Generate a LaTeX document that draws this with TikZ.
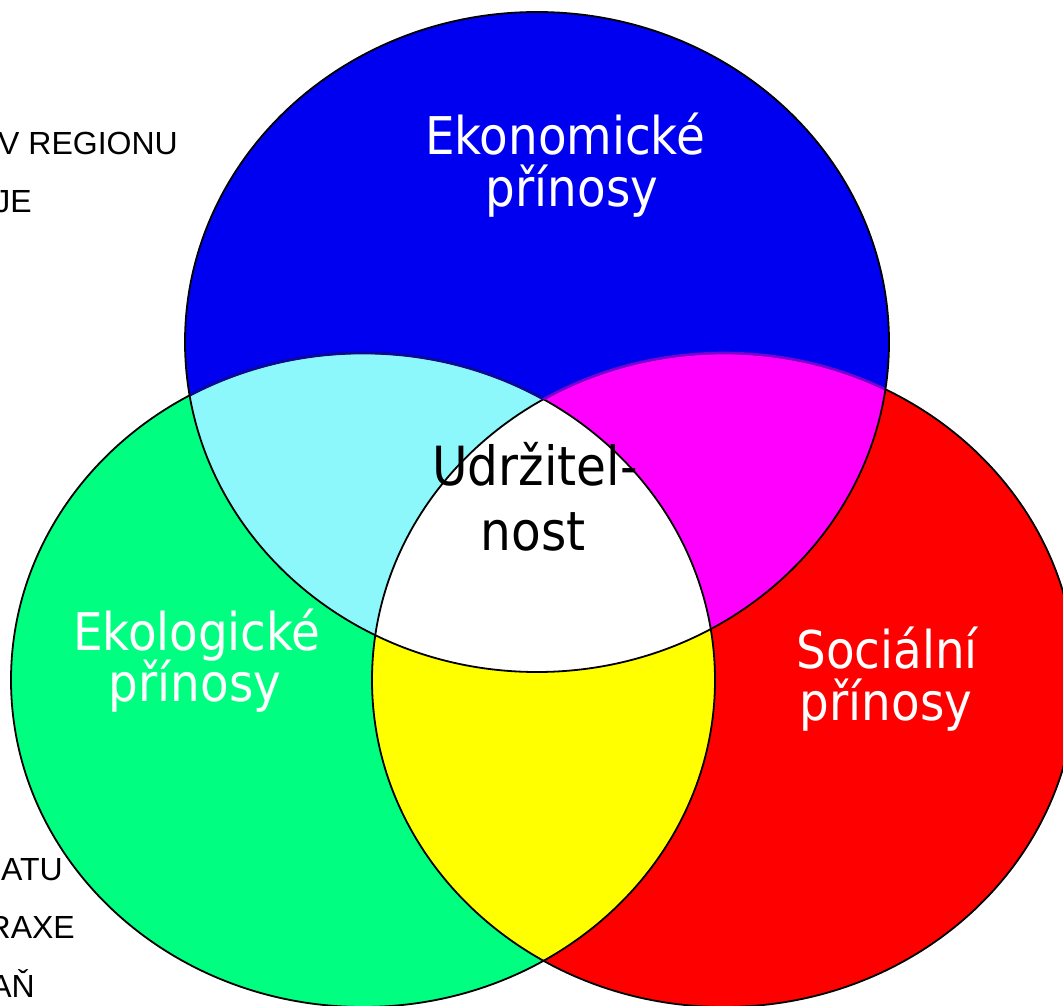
\documentclass[tikz,border=0pt]{standalone}
\usepackage{fontspec}
\newfontfamily\lblfont{DejaVu Sans Condensed}
\newfontfamily\sidefont{Liberation Sans}
\definecolor{cBlue}{RGB}{0,0,240}
\definecolor{cGreen}{RGB}{0,255,128}
\definecolor{cRed}{RGB}{255,0,0}
\definecolor{cCyan}{RGB}{140,248,252}
\definecolor{cMag}{RGB}{255,0,255}
\definecolor{cYel}{RGB}{255,255,0}
\definecolor{faintB}{RGB}{10,10,150}
\definecolor{faintM}{RGB}{120,0,210}
\tikzset{
  lbl/.style={inner sep=0pt, anchor=base, font=\lblfont\fontsize{52}{52}\selectfont},
  side/.style={inner sep=0pt, anchor=base east, text=black, font=\sidefont\fontsize{32}{32}\selectfont},
  rim/.style={draw=black, line width=1.8pt},
}
\def\blueE{(537,342) ellipse [x radius=352, y radius=330]}
\def\greenE{(363,680) ellipse [x radius=352, y radius=327]}
\def\redE{(724,680) ellipse [x radius=352, y radius=327]}
\begin{document}
\begin{tikzpicture}[x=1pt,y=-1pt]
\useasboundingbox (0,0) rectangle (1063,1006);
\clip (0,0) rectangle (1063,1006);
\fill[white] (0,0) rectangle (1063,1006);
% base fills
\fill[cGreen] \greenE;
\fill[cRed] \redE;
\begin{scope}\clip \greenE; \fill[cYel] \redE; \end{scope}
\fill[cBlue] \blueE;
\begin{scope}\clip \blueE; \fill[cCyan] \greenE; \fill[cMag] \redE;
  \clip \greenE; \fill[white] \redE; \end{scope}
% outlines
\draw[rim] \greenE;
\draw[rim] \redE;
\begin{scope}[even odd rule]
  \clip \blueE; \clip (-10,-10) rectangle (1100,1100) \redE;
  \draw[draw=faintB, line width=2.6pt] \greenE;
\end{scope}
\begin{scope}[even odd rule]
  \clip \blueE; \clip (-10,-10) rectangle (1100,1100) \greenE;
  \draw[draw=faintM, line width=2.6pt] \redE;
\end{scope}
\draw[rim] \blueE;
% labels
\node[lbl, text=white] (eko1) at (565,155) {Ekonomické};
\node[lbl, text=white] (eko2) at (572,206) {přínosy};
\node[lbl, text=black, font=\lblfont\fontsize{54}{54}\selectfont] (udr1) at (535,485) {Udržitel-};
\node[lbl, text=black, font=\lblfont\fontsize{54}{54}\selectfont] (udr2) at (533,550) {nost};
\node[lbl, text=white] (ekl1) at (197,650) {Ekologické};
\node[lbl, text=white] (ekl2) at (195,701) {přínosy};
\node[lbl, text=white] (soc1) at (887,668) {Sociální};
\node[lbl, text=white] (soc2) at (886,720) {přínosy};
% side texts
\node[side] (s1) at (178,155) {V REGIONU};
\node[side] (s2) at (32,212) {JE};
\node[side] (s3) at (63,880) {ATU};
\node[side] (s4) at (75,938) {RAXE};
\node[side] (s5) at (35,997) {AŇ};
\end{tikzpicture}
\end{document}
